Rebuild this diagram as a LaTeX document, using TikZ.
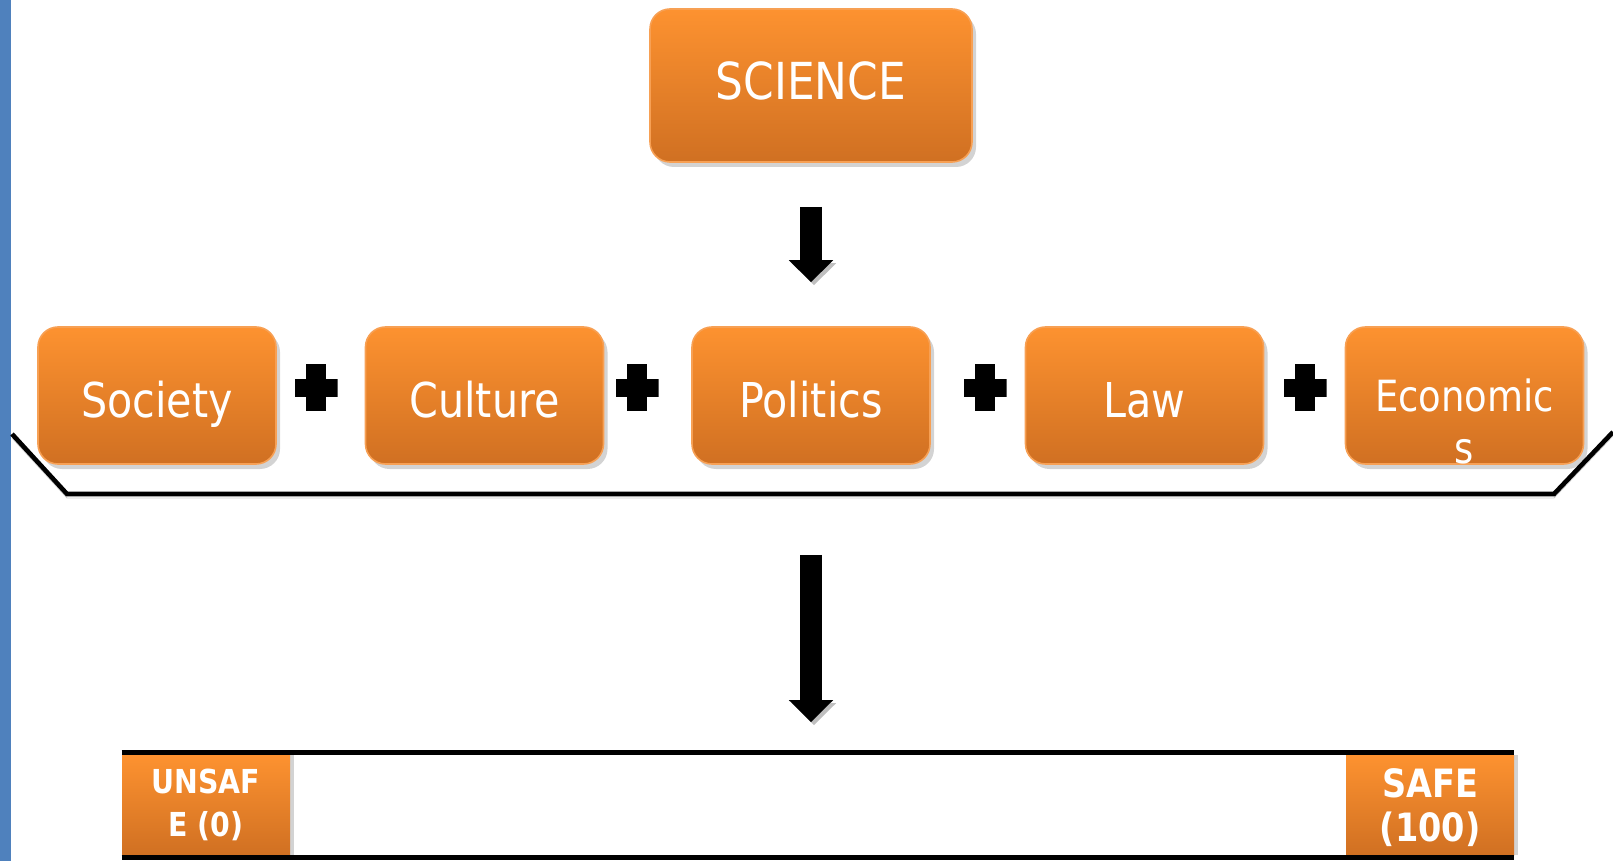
\documentclass[tikz,border=0pt]{standalone}
\usepackage{fontspec}
\setmainfont{DejaVu Sans}[FakeStretch=0.86]
\usetikzlibrary{arrows.meta,shadows,calc,positioning}
\definecolor{boxtop}{RGB}{253,146,48}
\definecolor{boxbot}{RGB}{208,112,34}
\definecolor{boxedge}{RGB}{247,160,84}
\definecolor{sideblue}{RGB}{79,129,189}

\begin{document}
\begin{tikzpicture}[x=0.5pt, y=-0.5pt,
  box/.style={draw=boxedge, line width=0.8pt, rounded corners=10pt, top color=boxtop, bottom color=boxbot,
    text=white, inner sep=0pt, minimum width=119pt, minimum height=68.5pt,
    font=\fontsize{24}{28}\selectfont, text height=21.5pt, text depth=0pt,
    drop shadow={opacity=0.35, shadow xshift=2pt, shadow yshift=-2.5pt}},
  boxlabel/.style={text=white, inner sep=0pt, font=\fontsize{21.5}{26}\selectfont},
  endbox/.style={top color=boxtop, bottom color=boxbot, text=white, inner sep=0pt,
    minimum width=84pt, minimum height=50pt, align=center,
    drop shadow={opacity=0.35, shadow xshift=2pt, shadow yshift=0pt}},
  blockarrow/.style={line width=11pt, -{Triangle[width=21.5pt, length=11pt]},
    preaction={draw=black!25, transform canvas={shift={(1.5pt,-1.5pt)}}}},
  bracket/.style={line width=2.3pt, line join=miter,
    preaction={draw=black!20, transform canvas={yshift=-2pt}}},
  barline/.style={line width=2.5pt},
  plussign/.style={minimum width=21.5pt, minimum height=23.5pt, inner sep=0pt,
    path picture={
      \fill[black] ([xshift=-5pt]path picture bounding box.north) rectangle ([xshift=5pt]path picture bounding box.south);
      \fill[black] ([yshift=4.5pt]path picture bounding box.west) rectangle ([yshift=-4.5pt]path picture bounding box.east);}}]

  \useasboundingbox (0,0) rectangle (1613,861);
  \fill[sideblue] (0,0) rectangle (11,861);

  % top box
  \node[box, minimum width=161pt, minimum height=76.5pt, font=\fontsize{25.5}{30}\selectfont, text height=18.5pt, text depth=4.5pt] (science) at (811,85.5) {SCIENCE};

  % middle row
  \node[box] (society) at (157,395.5) {Society};
  \node[box] (culture) at (484.5,395.5) {Culture};
  \node[box] (politics) at (811,395.5) {Politics};
  \node[box] (law) at (1144.5,395.5) {Law};
  \node[box, font=\fontsize{21.5}{26}\selectfont, text height=15.7pt] (eco) at (1464.5,395.5) {Economic};
  \node[boxlabel, anchor=base] (ecos) at ([yshift=-26pt]eco.base) {s};

  \node[plussign] (plus1) at (316,388) {};
  \node[plussign] (plus2) at (637,388) {};
  \node[plussign] (plus3) at (985,388) {};
  \node[plussign] (plus4) at (1305,388) {};

  \coordinate (brl) at (12,434);
  \coordinate (brbl) at (67,494);
  \coordinate (brbr) at (1554,494);
  \coordinate (brr) at (1613,432);
  \draw[bracket] (brl) -- (brbl) -- (brbr) -- (brr);

  % scale at the bottom
  \node[endbox, font=\bfseries\fontsize{16.5}{21.5}\selectfont] (unsafe) at (206,805) {UNSAF\\E (0)};
  \node[endbox, font=\bfseries\fontsize{19.5}{22}\selectfont, text depth=-4pt] (safe) at (1430,805) {SAFE\\(100)};
  \draw[barline] ([yshift=1.25pt]unsafe.north west) -- ([yshift=1.25pt]safe.north east);
  \draw[barline] ([yshift=-1.25pt]unsafe.south west) -- ([yshift=-1.25pt]safe.south east);
  \coordinate (bartop) at ([yshift=1.25pt]unsafe.north);

  \draw[blockarrow] ([yshift=-22pt]science.south) -- ([yshift=22pt]politics.north);
  \draw[blockarrow] ([yshift=-45pt]politics.south) -- ([yshift=15pt]politics.south |- bartop);
\end{tikzpicture}
\end{document}
